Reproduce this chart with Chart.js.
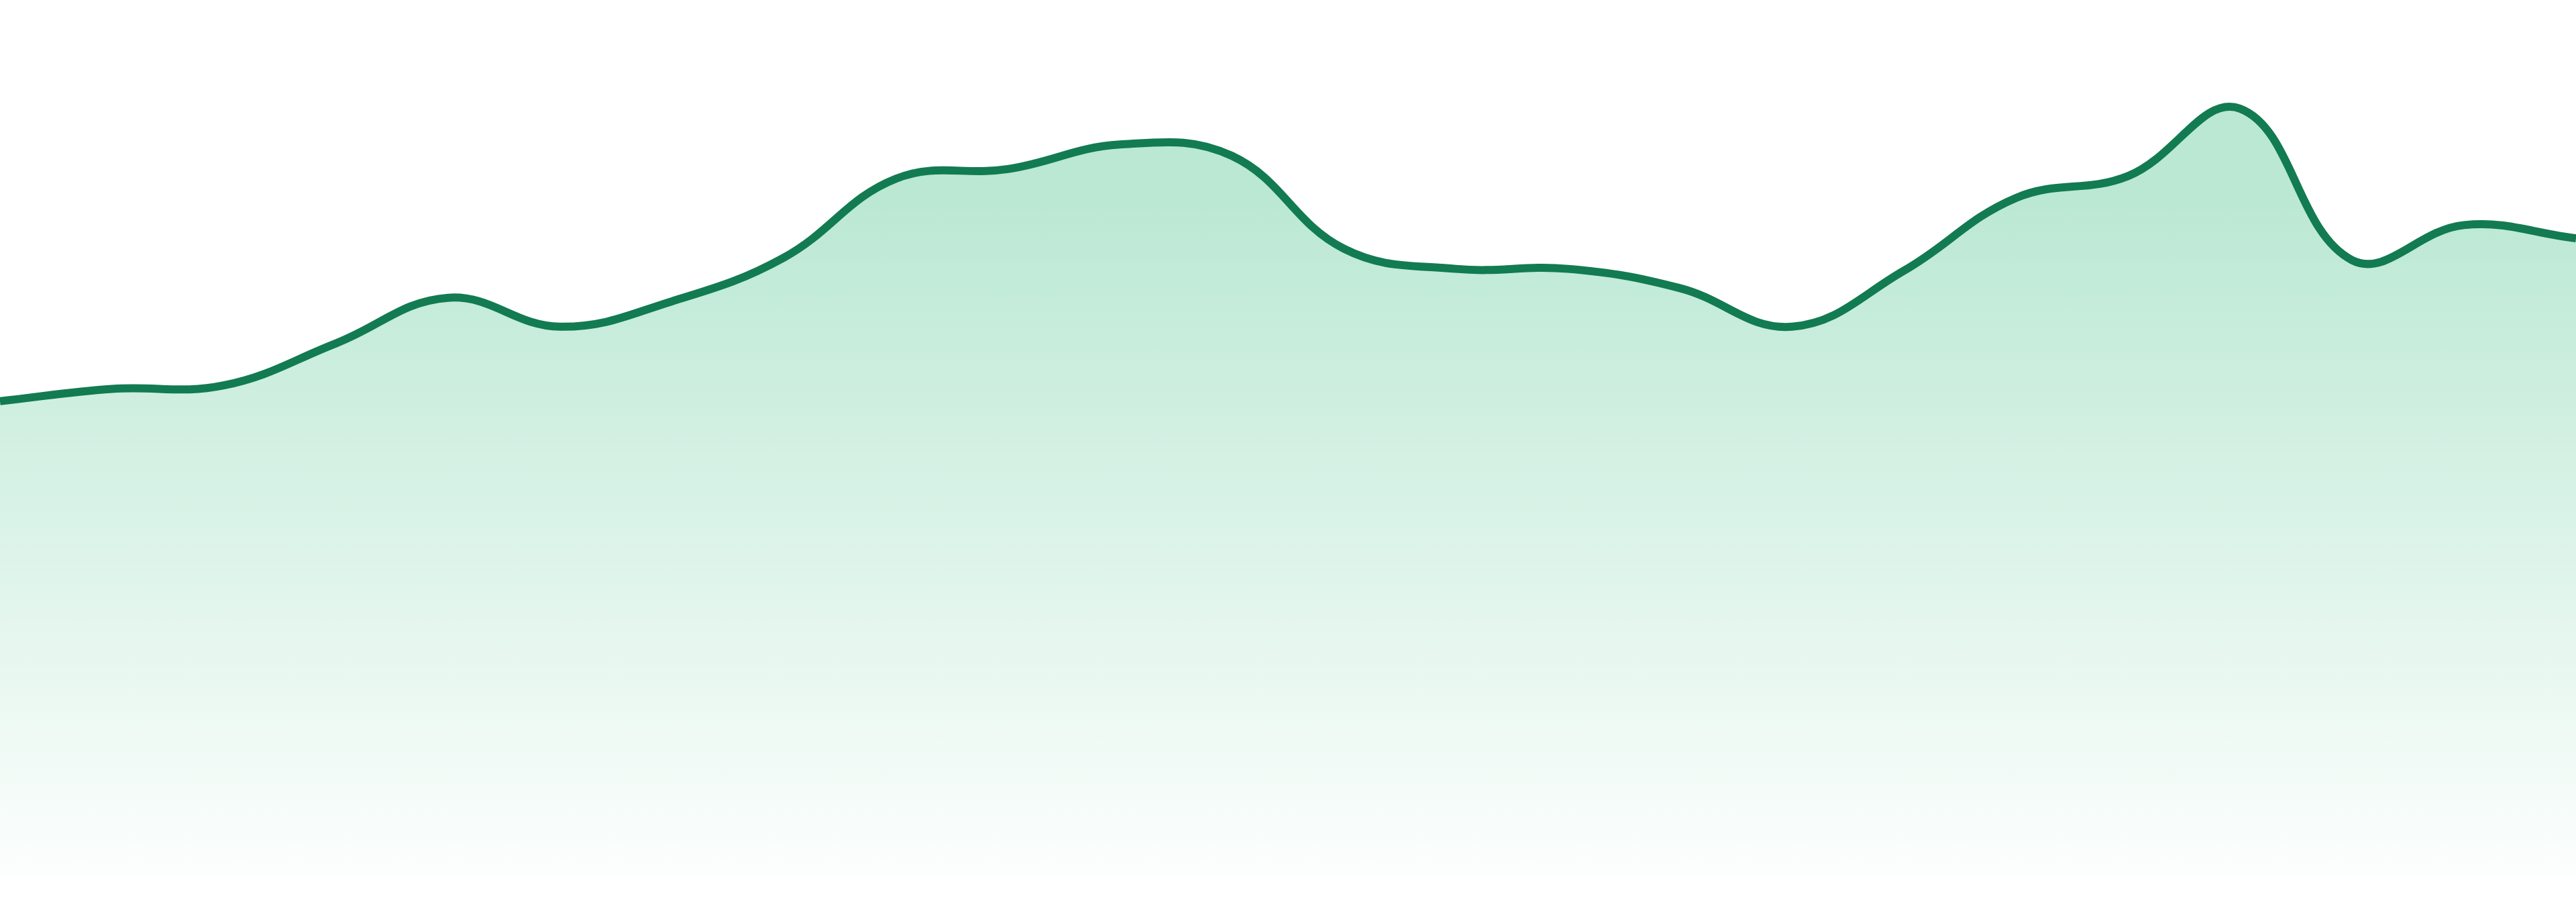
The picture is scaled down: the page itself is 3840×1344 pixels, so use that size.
<html>
   <head>
      <script src="https://cdn.jsdelivr.net/npm/chart.js@4.4.1/dist/chart.umd.min.js"></script>
   </head>
   <style>
      html,
      body {
         width: 100%;
         height: 100%;
         margin: 0;
         background: #ffffff;
         overflow: hidden;
      }

      .graph {
         position: relative;
         width: 3840px;
         height: 1344px;
      }
   </style>

   <body>
      <div class="graph" id="graph">
         <canvas id="myChart"></canvas>
      </div>
   </body>
   <script>
      // hourly points (axes are hidden)
      const labels = [
         "00:00", "01:00", "02:00", "03:00", "04:00", "05:00",
         "06:00", "07:00", "08:00", "09:00", "10:00", "11:00",
         "12:00", "13:00", "14:00", "15:00", "16:00", "17:00",
         "18:00", "19:00", "20:00", "21:00", "22:00", "23:00",
      ];
      const values = [
         54.2, 55.6, 56.0, 60.8, 66.0, 62.7,
         65.6, 70.6, 79.6, 80.7, 83.5, 82.2,
         71.6, 69.3, 69.3, 67.1, 62.7, 69.1,
         77.4, 79.9, 87.6, 70.3, 74.3, 72.8,
      ];
      const yMin = 0;
      const yMax = 100;

      const lineColor = "#127b51";

      function fillGradient(context) {
         const chart = context.chart;
         const area = chart.chartArea;
         if (!area) return "rgba(187, 233, 212, 0.6)";
         const g = chart.ctx.createLinearGradient(0, area.top + 285, 0, area.bottom);
         g.addColorStop(0, "rgba(186, 232, 211, 1)");
         g.addColorStop(1, "rgba(186, 232, 211, 0.04)");
         return g;
      }

      const config = {
         type: "line",
         data: {
            labels: labels,
            datasets: [
               {
                  data: values,
                  borderColor: lineColor,
                  borderWidth: 12,
                  backgroundColor: fillGradient,
                  fill: "origin",
                  tension: 0.4,
                  pointRadius: 0,
                  pointHoverRadius: 0,
               },
            ],
         },
         options: {
            responsive: true,
            maintainAspectRatio: false,
            animation: false,
            devicePixelRatio: 1,
            layout: {
               padding: { top: 0, left: 0, right: 0, bottom: 39 },
            },
            plugins: {
               legend: { display: false },
               tooltip: { enabled: false },
            },
            scales: {
               x: { display: false },
               y: { display: false, min: yMin, max: yMax },
            },
         },
      };

      const myChart = new Chart(document.getElementById("myChart"), config);
   </script>
</html>
